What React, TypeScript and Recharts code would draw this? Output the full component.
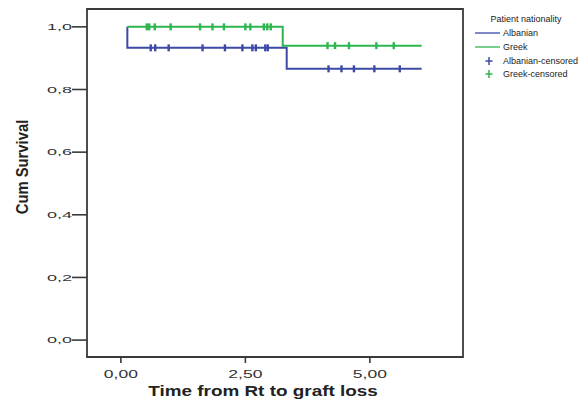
import { ComposedChart, XAxis, YAxis, Line, Scatter, ReferenceArea, Legend } from 'recharts';

// Kaplan-Meier steps
const albanianTimes = [0.13, 0.13, 3.33, 6.04];
const albanianSurv = [1.0, 0.933, 0.866, 0.866];
const greekTimes = [0.13, 3.25, 6.04];
const greekSurv = [1.0, 0.94, 0.94];

// censored cases
const albanianCensTimes = [0.6, 0.69, 0.96, 1.64, 2.09, 2.44, 2.64, 2.71, 2.9, 2.95, 4.17, 4.43, 4.68, 5.09, 5.6];
const albanianCensSurv = [0.933, 0.933, 0.933, 0.933, 0.933, 0.933, 0.933, 0.933, 0.933, 0.933, 0.866, 0.866, 0.866, 0.866, 0.866];
const greekCensTimes = [0.52, 0.57, 0.68, 1.0, 1.59, 1.84, 2.07, 2.5, 2.6, 2.87, 2.94, 3.01, 4.15, 4.3, 4.58, 5.13, 5.48];
const greekCensSurv = [1, 1, 1, 1, 1, 1, 1, 1, 1, 1, 1, 1, 0.94, 0.94, 0.94, 0.94, 0.94];

const xTicks = [0, 2.5, 5];
const yTicks = [0, 0.2, 0.4, 0.6, 0.8, 1.0];

const X_DOMAIN = [-0.68, 6.87];
const Y_DOMAIN = [-0.054, 1.057];

const BLUE = '#3c4aa6';
const GREEN = '#2db64f';
const FRAME = '#3a3a3a';
const FONT = 'Liberation Sans, Arial, sans-serif';

const zip = (t: number[], s: number[]) => t.map((v, i) => ({ t: v, s: s[i] }));

const albanian = zip(albanianTimes, albanianSurv);
const greek = zip(greekTimes, greekSurv);
const albanianCens = zip(albanianCensTimes, albanianCensSurv);
const greekCens = zip(greekCensTimes, greekCensSurv);

const comma = (v: number, d: number) => v.toFixed(d).replace('.', ',');

const XTick = ({ x, y, payload }: any) => (
  <text transform={`translate(${x},${y + 13}) scale(1.75,1)`} textAnchor="middle"
    fontFamily={FONT} fontSize={10} fill="#333">{comma(payload.value, 2)}</text>
);

const YTick = ({ x, y, payload }: any) => (
  <text transform={`translate(${x + 1},${y}) scale(1.9,1)`} textAnchor="end" dominantBaseline="central"
    fontFamily={FONT} fontSize={9.5} fill="#333">{comma(payload.value, 1)}</text>
);

const censorMark = (color: string) => (props: any) => (
  <rect x={props.cx - 1.2} y={props.cy - 3.5} width={2.4} height={7} fill={color} />
);

const renderLegend = () => (
  <svg width={118} height={85}>
    <text x={61} y={19} textAnchor="middle" dominantBaseline="central" fontFamily={FONT} fontSize={9} fill="#222">Patient nationality</text>
    <line x1={10} x2={35} y1={33} y2={33} stroke={BLUE} strokeWidth={1.3} />
    <text x={38} y={33} dominantBaseline="central" fontFamily={FONT} fontSize={9} fill="#222">Albanian</text>
    <line x1={10} x2={35} y1={47} y2={47} stroke={GREEN} strokeWidth={1.3} />
    <text x={38} y={47} dominantBaseline="central" fontFamily={FONT} fontSize={9} fill="#222">Greek</text>
    <line x1={20.5} x2={27.5} y1={61} y2={61} stroke={BLUE} strokeWidth={1.5} />
    <line x1={24} x2={24} y1={57} y2={65} stroke={BLUE} strokeWidth={1.5} />
    <text x={38} y={61} dominantBaseline="central" fontFamily={FONT} fontSize={9} fill="#222">Albanian-censored</text>
    <line x1={20.5} x2={27.5} y1={74} y2={74} stroke={GREEN} strokeWidth={1.5} />
    <line x1={24} x2={24} y1={70} y2={78} stroke={GREEN} strokeWidth={1.5} />
    <text x={38} y={74} dominantBaseline="central" fontFamily={FONT} fontSize={9} fill="#222">Greek-censored</text>
  </svg>
);

export default function App() {
  return (
    <div style={{ position: 'absolute', left: 0, top: 0 }}>
      <ComposedChart width={583} height={399} margin={{ top: 9, right: 120, left: 27, bottom: 12 }}>
        <XAxis type="number" dataKey="t" domain={X_DOMAIN} ticks={xTicks} allowDataOverflow
          axisLine={false} tickSize={6} tickLine={{ stroke: FRAME, strokeWidth: 1.6 }} height={30}
          tick={<XTick />}
          label={{ content: () => (
            <text transform="translate(263,395.5) scale(1.35,1)" textAnchor="middle" fontFamily={FONT}
              fontSize={14} fontWeight="bold" fill="#222">Time from Rt to graft loss</text>
          ) }} />
        <YAxis type="number" dataKey="s" domain={Y_DOMAIN} ticks={yTicks} allowDataOverflow
          axisLine={false} tickSize={15} tickMargin={1} tickLine={{ stroke: FRAME, strokeWidth: 1.6 }} width={60}
          tick={<YTick />}
          label={{ content: () => (
            <text transform="translate(22,167) scale(1.15,1) rotate(-90)" textAnchor="middle" dominantBaseline="central"
              fontFamily={FONT} fontSize={14.8} fontWeight="bold" fill="#222">Cum Survival</text>
          ) }} />
        <ReferenceArea x1={X_DOMAIN[0]} x2={X_DOMAIN[1]} y1={Y_DOMAIN[0]} y2={Y_DOMAIN[1]}
          fill="none" stroke={FRAME} strokeWidth={1.8} fillOpacity={0} strokeOpacity={1} ifOverflow="visible" />
        <Line data={albanian} dataKey="s" type="stepAfter" stroke={BLUE} strokeWidth={2} dot={false} isAnimationActive={false} name="Albanian" />
        <Line data={greek} dataKey="s" type="stepAfter" stroke={GREEN} strokeWidth={2} dot={false} isAnimationActive={false} name="Greek" />
        <Scatter data={albanianCens} dataKey="s" shape={censorMark(BLUE)} isAnimationActive={false} name="Albanian-censored" />
        <Scatter data={greekCens} dataKey="s" shape={censorMark(GREEN)} isAnimationActive={false} name="Greek-censored" />
        <Legend content={renderLegend} layout="vertical" align="center" verticalAlign="middle"
          wrapperStyle={{ position: 'absolute', left: 465, top: 0, width: 118, height: 85 }} />
      </ComposedChart>
    </div>
  );
}
